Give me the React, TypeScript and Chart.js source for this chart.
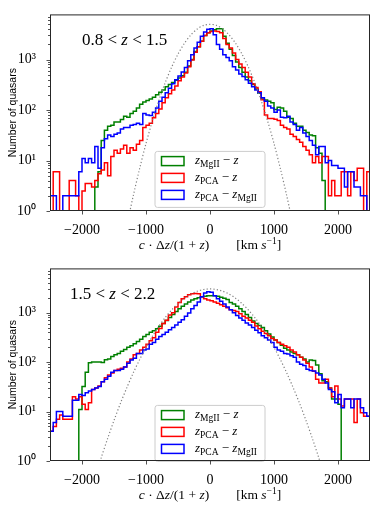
import { useEffect, useRef } from 'react';
import { Chart, registerables } from 'chart.js';

Chart.register(...registerables);

// ---------------- data ----------------
const X_MIN = -2500;
const X_MAX = 2500;
const BIN_WIDTH = 50;
const BIN_EDGES: number[] = Array.from({ length: (X_MAX - X_MIN) / BIN_WIDTH + 1 }, (_, i) => X_MIN + i * BIN_WIDTH);

const X_TICKS = [-2000, -1000, 0, 1000, 2000];
const Y_MIN = 1;
const Y_MAX = 7850;
const Y_TICKS = [1, 10, 100, 1000];
const Y_TICK_LABELS = ['10⁰', '10¹', '10²', '10³'];

// legend: z_{a} − z_{b}
const SERIES_SUBSCRIPTS: [string, string][] = [['MgII', ''], ['PCA', ''], ['PCA', 'MgII']];
const SERIES_COLORS = ['#008000', '#ff0000', '#0000ff'];
const PANEL_TITLES = ['0.8 < z < 1.5', '1.5 < z < 2.2'];

// 0.8 < z < 1.5 (100 bins of 50 km/s from -2500 to 2500)
const TOP_MGII = [
  0, 0, 0, 0, 0, 0, 0, 0, 0, 0,
  0, 0, 0, 0, 3, 6, 25, 40, 48, 50,
  58, 58, 65, 75, 72, 85, 95, 110, 130, 145,
  155, 165, 180, 200, 225, 250, 290, 320, 350, 390,
  430, 480, 560, 750, 1000, 1450, 1800, 2300, 3000, 3400,
  3700, 3900, 4100, 4100, 2900, 2100, 1600, 1200, 900, 700,
  560, 450, 380, 320, 260, 215, 165, 158, 150, 140,
  102, 113, 110, 95, 72, 68, 55, 48, 48, 40,
  36, 32, 31, 18, 14, 4, 0, 0, 0, 0,
  0, 0, 0, 0, 0, 0, 0, 0, 0, 0,
];
const TOP_PCA = [
  0, 6, 6, 0, 0, 0, 4, 4, 2, 0,
  2.5, 3.5, 3.5, 3, 4, 5.5, 6.5, 9, 5, 12,
  16, 14, 17, 20, 14, 18, 16, 21, 25, 45,
  50, 55, 70, 85, 105, 140, 175, 210, 250, 300,
  380, 450, 540, 720, 980, 1400, 1800, 2300, 3000, 3400,
  3600, 3700, 3600, 3400, 2600, 2000, 1700, 1350, 1000, 820,
  700, 560, 450, 330, 280, 230, 160, 80, 68, 68,
  66, 62, 50, 45, 42, 33, 30, 26, 23, 19,
  16, 13, 9, 12, 9, 12, 12, 2, 4, 2,
  2, 6, 6, 2, 6, 4, 7, 7, 1, 6,
];
const TOP_PCA_MGII = [
  2, 2, 0, 0, 2, 2, 2, 2, 2, 6,
  11, 9, 11, 9, 19, 7, 18, 27, 32, 30,
  33, 35, 42, 45, 45, 50, 52, 55, 52, 85,
  80, 78, 90, 110, 150, 180, 220, 270, 330, 400,
  470, 570, 700, 950, 1250, 1700, 2200, 2900, 3500, 4000,
  4100, 3100, 2000, 1600, 1250, 1100, 950, 720, 620, 520,
  460, 400, 340, 290, 250, 220, 175, 150, 120, 110,
  90, 100, 72, 70, 75, 58, 52, 40, 45, 35,
  30, 25, 20, 13, 19, 19, 9, 10, 8, 8,
  7, 7, 3, 6, 6, 3, 3, 2, 2, 0,
];

// 1.5 < z < 2.2
const BOT_MGII = [
  0, 0, 0, 0, 0, 0, 0, 0, 0, 11,
  32, 62, 97, 100, 100, 100, 98, 112, 115, 130,
  140, 150, 165, 180, 200, 215, 235, 260, 290, 330,
  360, 400, 430, 470, 530, 600, 690, 800, 920, 1050,
  1200, 1350, 1500, 1650, 1800, 1900, 2000, 2100, 2150, 2200,
  2200, 2200, 2150, 2050, 1950, 1850, 1600, 1500, 1350, 1200,
  1050, 920, 800, 680, 600, 550, 500, 430, 370, 320,
  280, 250, 220, 190, 175, 160, 150, 140, 125, 115,
  100, 110, 108, 87, 58, 42, 40, 30, 18, 18,
  14, 0, 0, 0, 0, 0, 0, 0, 0, 0,
];
const BOT_PCA = [
  4, 5, 7, 8.5, 7, 7, 7, 20, 18, 20,
  14, 11, 15, 28, 30, 33, 40, 48, 55, 60,
  68, 72, 75, 80, 100, 115, 140, 150, 175, 200,
  230, 270, 310, 400, 480, 600, 700, 900, 1000, 1300,
  1600, 1900, 2100, 2300, 2400, 2450, 2400, 2100, 1900, 1800,
  1750, 1650, 1550, 1450, 1350, 1250, 1150, 1100, 1050, 950,
  850, 780, 700, 640, 540, 470, 420, 380, 340, 300,
  280, 250, 230, 215, 200, 175, 160, 140, 125, 110,
  95, 80, 65, 45, 38, 38, 45, 30, 20, 33,
  18, 13, 18, 18, 18, 6, 18, 9.5, 8, 8,
];
const BOT_PCA_MGII = [
  4, 6, 10, 10, 8, 8, 8, 17, 17, 22,
  21, 24, 26, 28, 30, 32, 40, 45, 52, 62,
  68, 68, 72, 80, 95, 110, 120, 150, 150, 175,
  185, 230, 250, 290, 330, 360, 400, 450, 500, 560,
  640, 720, 850, 980, 1200, 1400, 1650, 2100, 2500, 2650,
  2600, 2200, 1900, 1700, 1500, 1300, 1150, 1000, 880, 780,
  700, 620, 560, 500, 440, 390, 340, 310, 280, 250,
  200, 175, 165, 150, 145, 135, 125, 100, 90, 85,
  72, 68, 66, 60, 55, 45, 38, 28, 25, 15,
  22, 12, 18, 18, 12, 18, 18, 12, 9.5, 8,
];

// dotted reference curves
const GAUSS_TOP_X = [-1300, -1200, -1100, -1000, -900, -800, -700, -600, -500, -400, -300, -200, -100, 0,
  100, 200, 300, 400, 500, 600, 700, 800, 900, 1000, 1100, 1200, 1300];
const GAUSS_TOP_Y = [0.51, 1.98, 6.9, 21.7, 61, 154, 348, 706, 1285, 2100, 3070, 4030, 4750, 5000,
  4750, 4030, 3070, 2100, 1285, 706, 348, 154, 61, 21.7, 6.9, 1.98, 0.51];
const GAUSS_BOT_X = [-1800, -1700, -1600, -1500, -1400, -1300, -1200, -1100, -1000, -900, -800, -700, -600, -500,
  -400, -300, -200, -100, 0, 100, 200, 300, 400, 500, 600, 700, 800, 900, 1000, 1100, 1200, 1300, 1400, 1500,
  1600, 1700, 1800];
const GAUSS_BOT_Y = [0.45, 1.16, 2.84, 6.6, 14.6, 30.3, 60, 112, 199, 333, 530, 796, 1130, 1530,
  1955, 2370, 2710, 2940, 3020, 2940, 2710, 2370, 1955, 1530, 1130, 796, 530, 333, 199, 112, 60, 30.3, 14.6, 6.6,
  2.84, 1.16, 0.45];

// ---------------- helpers ----------------
type Seg = { t: string; it?: boolean; size?: number; dy?: number };
const SERIF = '"Liberation Serif", "Times New Roman", serif';

function drawSegs(ctx: CanvasRenderingContext2D, segs: Seg[], x: number, y: number, base: number, align: 'left' | 'center') {
  const font = (s: Seg) => `${s.it ? 'italic ' : ''}${s.size ?? base}px ${SERIF}`;
  let w = 0;
  for (const s of segs) { ctx.font = font(s); w += ctx.measureText(s.t).width; }
  let cx = align === 'center' ? x - w / 2 : x;
  ctx.textAlign = 'left';
  ctx.textBaseline = 'alphabetic';
  for (const s of segs) {
    ctx.font = font(s);
    ctx.fillText(s.t, cx, y + (s.dy ?? 0));
    cx += ctx.measureText(s.t).width;
  }
}

function histPoints(vals: number[]) {
  const pts = vals.map((v, i) => ({ x: BIN_EDGES[i], y: v > 0 ? v : 0.01 }));
  const last = vals[vals.length - 1];
  pts.push({ x: BIN_EDGES[vals.length], y: last > 0 ? last : 0.01 });
  return pts;
}

type PanelSpec = {
  title: string;
  series: number[][];
  gx: number[];
  gy: number[];
  padTop: number;
  height: number;
  xAxisH: number;
  titleX: number;
};

function decorPlugin(p: PanelSpec) {
  return {
    id: 'decor',
    afterDraw(chart: any) {
      const { ctx, chartArea: a, scales } = chart;
      const xs = scales.x;
      const ys = scales.y;
      ctx.save();

      // legend
      const lx = 155, lw = 110, ly = a.top + 137, lh = 56, r = 2.5;
      ctx.beginPath();
      ctx.moveTo(lx + r, ly);
      ctx.lineTo(lx + lw - r, ly);
      ctx.quadraticCurveTo(lx + lw, ly, lx + lw, ly + r);
      ctx.lineTo(lx + lw, ly + lh - r);
      ctx.quadraticCurveTo(lx + lw, ly + lh, lx + lw - r, ly + lh);
      ctx.lineTo(lx + r, ly + lh);
      ctx.quadraticCurveTo(lx, ly + lh, lx, ly + lh - r);
      ctx.lineTo(lx, ly + r);
      ctx.quadraticCurveTo(lx, ly, lx + r, ly);
      ctx.closePath();
      ctx.fillStyle = 'rgba(255,255,255,0.8)';
      ctx.fill();
      ctx.strokeStyle = '#cccccc';
      ctx.lineWidth = 1;
      ctx.stroke();

      const rowsY = [146.7, 163.5, 180.5];
      SERIES_SUBSCRIPTS.forEach(([a1, b1], i) => {
        const cy = a.top + rowsY[i];
        ctx.strokeStyle = SERIES_COLORS[i];
        ctx.lineWidth = 1.5;
        ctx.strokeRect(161.5, cy - 4.5, 22.5, 9);
        ctx.fillStyle = '#000';
        const segs: Seg[] = [{ t: 'z', it: true }, { t: a1, size: 9.5, dy: 3.3 }, { t: ' − ' }, { t: 'z', it: true }];
        if (b1) segs.push({ t: b1, size: 9.5, dy: 3.3 });
        drawSegs(ctx, segs, 195, cy + 3, 13, 'left');
      });

      // panel title
      ctx.fillStyle = '#000';
      const tsegs: Seg[] = p.title.split(/(z)/).filter((s) => s.length).map((s) => ({ t: s, it: s === 'z' }));
      drawSegs(ctx, tsegs, p.titleX, a.top + 30.8, 17, 'left');

      // x axis title
      const xsegs: Seg[] = [
        { t: 'c', it: true }, { t: ' · Δ' }, { t: 'z', it: true }, { t: '/(1 + ' }, { t: 'z', it: true }, { t: ')' },
        { t: '        [km ' }, { t: 's', it: true }, { t: '−1', size: 9.5, dy: -5 }, { t: ']' },
      ];
      drawSegs(ctx, xsegs, (a.left + a.right) / 2, a.bottom + 37.5, 13.5, 'center');

      // frame
      ctx.strokeStyle = '#262626';
      ctx.lineWidth = 1;
      ctx.strokeRect(a.left + 0.5, a.top + 0.5, a.right - a.left - 1, a.bottom - a.top - 1);

      // ticks
      ctx.beginPath();
      for (const v of X_TICKS) {
        const px = Math.round(xs.getPixelForValue(v)) + 0.5;
        ctx.moveTo(px, a.bottom);
        ctx.lineTo(px, a.bottom + 3.5);
      }
      for (const d of Y_TICKS) {
        const py = Math.round(ys.getPixelForValue(d)) + 0.5;
        ctx.moveTo(a.left, py);
        ctx.lineTo(a.left - 3.5, py);
        for (let k = 2; k <= 9; k++) {
          const v = k * d;
          if (v > Y_MAX) break;
          const my = Math.round(ys.getPixelForValue(v)) + 0.5;
          ctx.moveTo(a.left, my);
          ctx.lineTo(a.left - 2, my);
        }
      }
      ctx.lineWidth = 0.8;
      ctx.stroke();
      ctx.restore();
    },
  };
}

function Panel({ spec }: { spec: PanelSpec }) {
  const ref = useRef<HTMLCanvasElement>(null);
  useEffect(() => {
    if (!ref.current) return;
    const datasets: any[] = spec.series.map((vals, i) => ({
      data: histPoints(vals),
      borderColor: SERIES_COLORS[i],
      borderWidth: 1.5,
      stepped: 'before',
      pointRadius: 0,
      fill: false,
      order: 3 - i,
    }));
    datasets.push({
      data: spec.gx.map((x, i) => ({ x, y: spec.gy[i] })),
      borderColor: '#808080',
      borderWidth: 1.2,
      borderDash: [1.2, 2.2],
      pointRadius: 0,
      fill: false,
      tension: 0.3,
      order: 0,
    });
    const chart = new Chart(ref.current, {
      type: 'line',
      data: { datasets },
      options: {
        animation: false,
        responsive: false,
        events: [],
        layout: { padding: { top: spec.padTop, right: 12, left: 0, bottom: 0 } },
        plugins: { legend: { display: false }, tooltip: { enabled: false } },
        scales: {
          x: {
            type: 'linear',
            min: X_MIN,
            max: X_MAX,
            grid: { display: false },
            border: { display: false },
            afterBuildTicks: (s: any) => { s.ticks = X_TICKS.map((v) => ({ value: v })); },
            afterFit: (s: any) => { s.height = spec.xAxisH; },
            ticks: {
              autoSkip: false,
              maxRotation: 0,
              padding: 3,
              color: '#000',
              font: { family: SERIF, size: 14 },
              callback: (v: any) => (v < 0 ? '−' + Math.abs(v) : String(v)),
            },
          },
          y: {
            type: 'logarithmic',
            min: Y_MIN,
            max: Y_MAX,
            grid: { display: false },
            border: { display: false },
            afterBuildTicks: (s: any) => { s.ticks = Y_TICKS.map((v) => ({ value: v })); },
            afterFit: (s: any) => { s.width = 50; },
            ticks: {
              autoSkip: false,
              padding: 6,
              color: '#000',
              font: { family: SERIF, size: 14 },
              callback: (v: any) => {
                const i = Y_TICKS.indexOf(Number(v));
                return i >= 0 ? Y_TICK_LABELS[i] : '';
              },
            },
            title: {
              display: true,
              text: 'Number of quasars',
              color: '#000',
              font: { family: '"Liberation Sans", Arial, sans-serif', size: 10.5 },
              padding: { top: 7, bottom: 0 },
            },
          },
        },
      },
      plugins: [decorPlugin(spec)],
    } as any);
    return () => chart.destroy();
  }, [spec]);
  return <canvas ref={ref} width={382} height={spec.height} style={{ display: 'block', width: 382, height: spec.height }} />;
}

const TOP_SPEC: PanelSpec = {
  title: PANEL_TITLES[0],
  series: [TOP_MGII, TOP_PCA, TOP_PCA_MGII],
  gx: GAUSS_TOP_X,
  gy: GAUSS_TOP_Y,
  padTop: 12,
  height: 254,
  xAxisH: 43,
  titleX: 82,
};
const BOT_SPEC: PanelSpec = {
  title: PANEL_TITLES[1],
  series: [BOT_MGII, BOT_PCA, BOT_PCA_MGII],
  gx: GAUSS_BOT_X,
  gy: GAUSS_BOT_Y,
  padTop: 8,
  height: 255,
  xAxisH: 48,
  titleX: 70,
};

export default function App() {
  return (
    <div style={{ position: 'absolute', left: 0, top: 0, width: 382, height: 509, background: '#fff' }}>
      <div style={{ position: 'absolute', left: 0, top: 0 }}>
        <Panel spec={TOP_SPEC} />
      </div>
      <div style={{ position: 'absolute', left: 0, top: 254 }}>
        <Panel spec={BOT_SPEC} />
      </div>
    </div>
  );
}
